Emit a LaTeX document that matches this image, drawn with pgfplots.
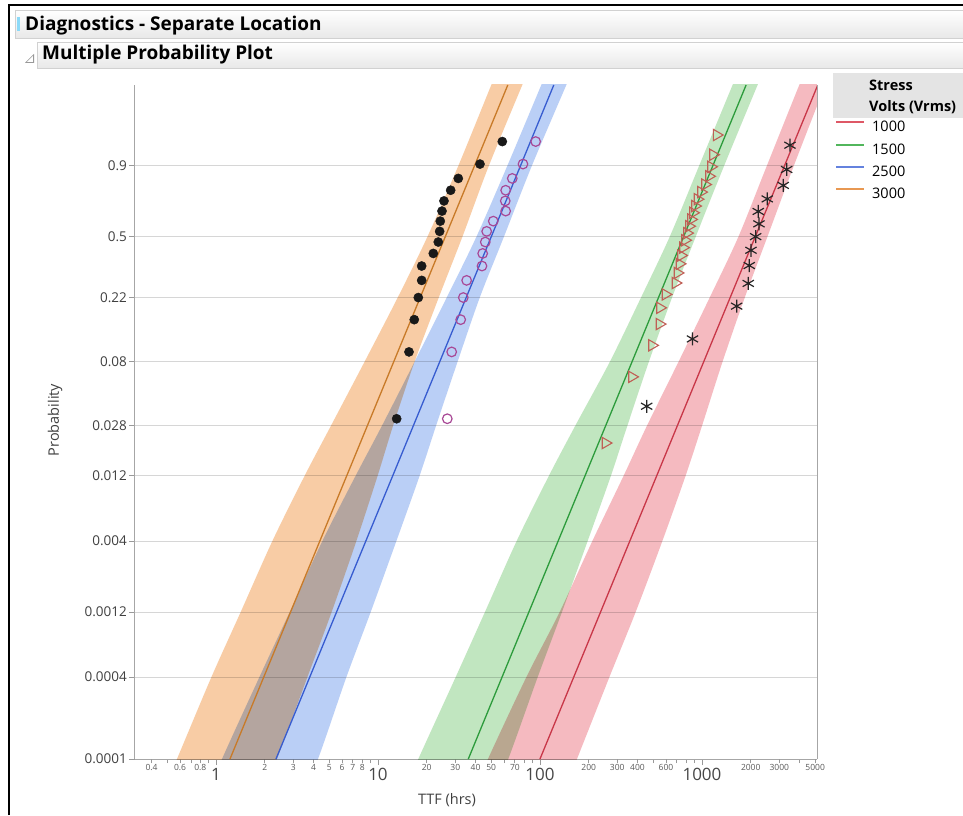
\documentclass[border=0pt]{standalone}
\usepackage{fontspec}
\setmainfont{Open Sans}
\usepackage{pgfplots}
\usepackage{pgfplotstable}
\pgfplotsset{compat=1.18}
\newcommand{\fs}[1]{\fontsize{#1}{#1}\selectfont}

\definecolor{bandO}{RGB}{248,204,165}
\definecolor{bandB}{RGB}{186,207,246}
\definecolor{bandG}{RGB}{193,230,192}
\definecolor{bandR}{RGB}{245,186,192}
\definecolor{lineO}{RGB}{200,122,40}
\definecolor{lineB}{RGB}{55,92,208}
\definecolor{lineG}{RGB}{45,155,60}
\definecolor{lineR}{RGB}{200,55,72}
\definecolor{legO}{RGB}{232,152,82}
\definecolor{legB}{RGB}{100,130,222}
\definecolor{legG}{RGB}{82,182,92}
\definecolor{legR}{RGB}{222,88,102}
\definecolor{mkP}{RGB}{168,72,150}
\definecolor{mkT}{RGB}{192,96,86}
\definecolor{hdr}{RGB}{228,228,228}

% 3000 Vrms (filled dots)
\pgfplotstableread{
x p
13.04 0.03125
15.54 0.09375
16.75 0.15625
17.74 0.21875
18.61 0.28125
18.61 0.34375
21.95 0.40625
23.56 0.46875
24.03 0.53125
24.24 0.59375
24.84 0.65625
25.55 0.71875
28.10 0.78125
31.31 0.84375
42.62 0.90625
58.54 0.96875
}\ptsC
% 2500 Vrms (open circles)
\pgfplotstableread{
x p
26.78 0.03125
28.51 0.09375
32.40 0.15625
33.62 0.21875
35.27 0.28125
43.85 0.34375
44.29 0.40625
45.96 0.46875
46.88 0.53125
51.48 0.59375
61.41 0.65625
61.06 0.71875
61.41 0.78125
67.45 0.84375
78.55 0.90625
94.07 0.96875
}\ptsB
% 1500 Vrms (triangles)
\pgfplotstableread{
x p
253.8 0.020833
369.8 0.0625
491.3 0.104167
546.7 0.145833
550.5 0.1875
595.3 0.229167
686.2 0.270833
706.1 0.3125
726.4 0.354167
742.2 0.395833
763.5 0.4375
785.6 0.479167
808.1 0.520833
831.5 0.5625
855.4 0.604167
880.0 0.645833
905.4 0.6875
938.0 0.729167
985.8 0.770833
1043.5 0.8125
1104.5 0.854167
1136.5 0.895833
1169.2 0.9375
1232.3 0.979167
}\ptsG
% 1000 Vrms (asterisks)
\pgfplotstableread{
x p
455.7 0.038462
873.9 0.115385
1637.6 0.192308
1931 0.269231
1959 0.346154
2007 0.423077
2145 0.5
2248 0.576923
2226 0.653846
2530 0.730769
3176 0.807692
3333 0.884615
3494 0.961538
}\ptsR

\begin{document}
\begin{tikzpicture}[x=1pt,y=1pt]
\path[use as bounding box] (0,0) rectangle (963,815);
\fill[white] (0,0) rectangle (963,815);
% outer frame
\draw[black, line width=2pt] (9,0) -- (9,810) -- (963,810);
% header bars
\shade[top color=white, bottom color=black!9, draw=black!18] (15,777) rectangle (964,805);
\fill[cyan!45] (17,784) rectangle (20,798);
\node[anchor=base west, inner sep=0pt, font=\bfseries\fs{19}] at (25,784.5) {Diagnostics - Separate Location};
\shade[top color=white, bottom color=black!9, draw=black!18] (37,747) rectangle (964,773);
\fill[black!40] (25,752) -- (34,752) -- (34,761) -- cycle;
\fill[white] (27,753.2) -- (32.8,753.2) -- (32.8,759) -- cycle;
\node[anchor=base west, inner sep=0pt, font=\bfseries\fs{19}] at (42,755) {Multiple Probability Plot};
% legend header
\fill[hdr] (833,697) rectangle (964,742);
\node[anchor=base west, inner sep=0pt, font=\bfseries\fs{14.5}] at (869,724.5) {Stress};
\node[anchor=base west, inner sep=0pt, font=\bfseries\fs{14.5}] at (869,703.5) {Volts (Vrms)};

\begin{axis}[
  at={(135pt,56pt)}, anchor=south west, scale only axis,
  width=682pt, height=674pt,
  xmode=log, xmin=0.3162, xmax=5130,
  ymin=-9.2103, ymax=2.2003,
  y filter/.expression={y<0.1 ? ln(y*(1+y*(0.5+y*(0.333333+0.25*y)))) : ln(-ln(1-y))},
  axis x line*=bottom, axis y line*=left,
  axis line style={draw=black!35, line width=1pt},
  ytick={-9.2103,-7.8238,-6.7246,-5.5195,-4.4168,-3.5614,-2.4843,-1.3924,-0.3665,0.8340},
  yticklabels={0.0001,0.0004,0.0012,0.004,0.012,0.028,0.08,0.22,0.5,0.9},
  ymajorgrids, grid style={draw=black!16, line width=0.9pt},
  tick align=outside, major tick length=6pt, minor tick length=4pt,
  tick style={draw=black!40, line width=0.8pt},
  /pgf/number format/assume math mode=true,
  yticklabel style={font=\fs{13.5}, text=black!75, inner sep=0pt, xshift=-2pt},
  xtick={1,10,100,1000}, xticklabels={1,10,100,1000},
  xticklabel style={font=\fs{17}, text=black!72, inner sep=0pt, yshift=-3pt},
  minor xtick={0.4,0.5,0.6,0.7,0.8,0.9,2,3,4,5,6,7,8,9,20,30,40,50,60,70,80,90,200,300,400,500,600,700,800,900,2000,3000,4000,5000},
  extra x ticks={0.4,0.6,0.8,2,3,4,5,6,7,8,20,30,40,50,70,200,300,400,600,2000,3000,5000},
  extra x tick labels={0.4,0.6,0.8,2,3,4,5,6,7,8,20,30,40,50,70,200,300,400,600,2000,3000,5000},
  extra x tick style={major tick length=4pt, xticklabel style={font=\fs{8.5}, text=black!65, yshift=2pt}},
  xlabel={TTF (hrs)}, ylabel={Probability},
  xlabel style={font=\fs{14.5}, text=black!75, at={(axis description cs:0.4575,-0.0608)}, anchor=center},
  ylabel style={font=\fs{14.5}, text=black!75, at={(axis description cs:-0.1173,0.503)}, anchor=center},
  legend style={at={(1.0264,0.9463)}, anchor=north west, draw=none, fill=none,
    font=\fs{14.5}, row sep=11.7pt, column sep=7pt, inner sep=0pt,
    nodes={inner sep=0pt, text height=10pt, text depth=0pt}},
  legend cell align=left,
  legend image code/.code={\draw[#1] (0pt,4.5pt) -- (28pt,4.5pt);},
]
% confidence bands (edges read at fixed probability levels, extended past the frame)
\addplot[forget plot, fill=bandO, draw=none, blend mode=multiply, smooth, tension=0.5] coordinates {
 (0.3735,0.00003) (0.5743,0.0001) (0.9367,0.0004) (1.4189,0.0012) (2.2295,0.004) (3.5236,0.012) (5.1404,0.028) (8.2647,0.08) (13.270,0.22) (20.207,0.5) (31.353,0.9) (50.047,0.99988) (58.20,0.999999)
 (90.369,0.999999) (77.767,0.99988) (48.370,0.9) (33.227,0.5) (23.766,0.22) (16.827,0.08) (12.412,0.028) (9.9433,0.012) (7.3564,0.004) (5.1697,0.0012) (3.6667,0.0004) (2.3797,0.0001) (1.5916,0.00003)} -- cycle;
\addplot[forget plot, fill=bandB, draw=none, blend mode=multiply, smooth, tension=0.5] coordinates {
 (0.7079,0.00003) (1.0889,0.0001) (1.8530,0.0004) (2.8465,0.0012) (4.5373,0.004) (7.2732,0.012) (10.615,0.028) (16.827,0.08) (26.628,0.22) (40.554,0.5) (62.911,0.9) (101.87,0.99988) (118.44,0.999999)
 (168.99,0.999999) (145.35,0.99988) (89.125,0.9) (59.948,0.5) (42.563,0.22) (30.999,0.08) (22.872,0.028) (18.064,0.012) (12.990,0.004) (9.0064,0.0012) (6.3818,0.0004) (4.2634,0.0001) (2.8506,0.00003)} -- cycle;
\addplot[forget plot, fill=bandG, draw=none, blend mode=multiply, smooth, tension=0.5] coordinates {
 (11.365,0.00003) (17.737,0.0001) (30.171,0.0004) (45.687,0.0012) (71.798,0.004) (113.48,0.012) (165.66,0.028) (270.13,0.08) (421.42,0.22) (632.77,0.5) (960.80,0.9) (1545.2,0.99988) (1796.6,0.999999)
 (2562.7,0.999999) (2204.0,0.99988) (1370.9,0.9) (915.43,0.5) (654.74,0.22) (470.11,0.08) (346.90,0.028) (273.99,0.012) (197.00,0.004) (136.53,0.0012) (96.78,0.0004) (63.72,0.0001) (42.62,0.00003)} -- cycle;
\addplot[forget plot, fill=bandR, draw=none, blend mode=multiply, smooth, tension=0.5] coordinates {
 (30.60,0.00003) (47.75,0.0001) (82.43,0.0004) (132.13,0.0012) (210.61,0.004) (328.10,0.012) (458.89,0.028) (717.1,0.08) (1118.9,0.22) (1680.0,0.5) (2515.8,0.9) (3987.6,0.99988) (4635.1,0.999999)
 (6707.8,0.999999) (5769.6,0.99988) (3692.8,0.9) (2537.4,0.5) (1840.5,0.22) (1340.1,0.08) (1002.8,0.028) (792.1,0.012) (569.6,0.004) (389.26,0.0012) (268.22,0.0004) (169.23,0.0001) (113.16,0.00003)} -- cycle;
% fitted lines
\addplot[forget plot, lineO, line width=1.3pt] coordinates {(1.22,0.0001) (63.3,0.99988)};
\addplot[forget plot, lineB, line width=1.3pt] coordinates {(2.346,0.0001) (121.7,0.99988)};
\addplot[forget plot, lineG, line width=1.3pt] coordinates {(36.1,0.0001) (1873,0.99988)};
\addplot[forget plot, lineR, line width=1.3pt] coordinates {(100,0.0001) (5188,0.99988)};
% data points
\addplot[forget plot, only marks, mark=*, mark size=4.6pt, mark options={draw=black!90, fill=black!90}] table[x=x, y=p] {\ptsC};
\addplot[forget plot, only marks, mark=o, mark size=4.8pt, mark options={draw=mkP, line width=1.2pt}] table[x=x, y=p] {\ptsB};
\addplot[forget plot, only marks, mark=triangle, mark size=6.5pt, mark options={draw=mkT, line width=1.1pt, rotate=-90}] table[x=x, y=p] {\ptsG};
\addplot[forget plot, only marks, mark=asterisk, mark size=6.5pt, mark options={draw=black!85, line width=1.2pt}] table[x=x, y=p] {\ptsR};
% legend
\addlegendimage{legR, line width=2pt}\addlegendentry{1000}
\addlegendimage{legG, line width=2pt}\addlegendentry{1500}
\addlegendimage{legB, line width=2pt}\addlegendentry{2500}
\addlegendimage{legO, line width=2pt}\addlegendentry{3000}
\end{axis}
\draw[black!35, line width=1pt] (817,56) -- (817,730);
\end{tikzpicture}
\end{document}
